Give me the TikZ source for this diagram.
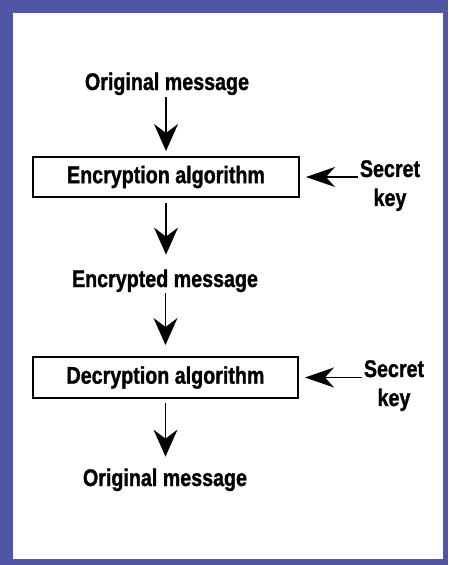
\documentclass[tikz,border=0pt]{standalone}
\usepackage{fontspec}
\setmainfont{Liberation Sans}[FakeStretch=0.82, BoldFeatures={FakeBold=1.2}]
\usetikzlibrary{arrows.meta}
\definecolor{frameblue}{RGB}{80,85,165}
\begin{document}
\begin{tikzpicture}[x=1pt,y=-1pt,
  lbl/.style={font=\bfseries\fontsize{24}{29}\selectfont, inner sep=0pt, outer sep=0pt},
  algbox/.style={lbl, draw, line width=1.8pt, minimum width=266pt, minimum height=40pt},
  flow/.style={line width=1.4pt, -{Stealth[length=27pt,width=24pt,inset=9pt]}},
  keyflow/.style={line width=1.4pt, -{Stealth[length=29pt,width=20pt,inset=9pt]}}]

% frame
\fill[frameblue] (0,0) rectangle (448,565);
\fill[white] (12.5,12.5) rectangle (442.7,558.5);
\useasboundingbox (0,0) rectangle (448,565);

% messages and algorithm boxes
\node[lbl, anchor=base] (m1) at (167,90) {Original message};
\node[algbox] (enc) at (166,177) {Encryption algorithm};
\node[lbl, anchor=base] (m2) at (165,287) {Encrypted message};
\node[algbox, minimum width=265pt, minimum height=41pt] (dec) at (165.5,377.5) {Decryption algorithm};
\node[lbl, anchor=base] (m3) at (165,486) {Original message};

% keys
\node[lbl, align=center, inner sep=2pt] (k1) at (390,185.6) {Secret\\key};
\node[lbl, align=center, inner sep=2pt] (k2) at (394,385.6) {Secret\\key};

% flow arrows
\draw[flow, shorten <=2pt, shorten >=6pt] (m1.south -| enc.north) -- (enc.north);
\draw[flow, shorten <=6pt, shorten >=15pt] (enc.south) -- (enc.south |- m2.north);
\draw[flow, shorten <=1pt, shorten >=12pt] (m2.south -| dec.north) -- (dec.north);
\draw[flow, shorten <=5pt, shorten >=12pt] (dec.south) -- (dec.south |- m3.north);

% key arrows
\draw[keyflow, shorten >=7pt] (k1.west |- enc.east) -- (enc.east);
\draw[keyflow, shorten >=7pt] (k2.west |- dec.east) -- (dec.east);
\end{tikzpicture}
\end{document}
